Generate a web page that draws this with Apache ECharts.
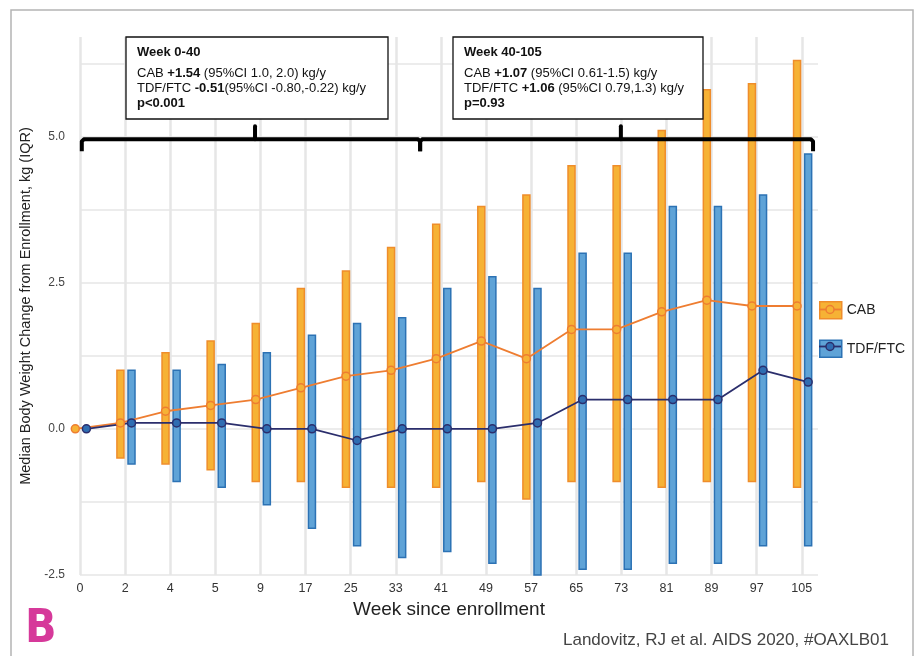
<!DOCTYPE html>
<html>
<head>
<meta charset="utf-8">
<script src="https://cdn.jsdelivr.net/npm/echarts@6/dist/echarts.min.js"></script>
<style>
  html, body { margin: 0; padding: 0; background: #ffffff; }
  #chart { width: 916px; height: 656px; }
</style>
</head>
<body>
<div id="chart"></div>
<script>
// ---- Data ----
const weeks = ['0', '2', '4', '5', '9', '17', '25', '33', '41', '49', '57', '65', '73', '81', '89', '97', '105'];
const cabQ1 = [null, -0.5, -0.6, -0.7, -0.9, -0.9, -1.0, -1.0, -1.0, -0.9, -1.2, -0.9, -0.9, -1.0, -0.9, -0.9, -1.0];
const cabQ3 = [null, 1.0, 1.3, 1.5, 1.8, 2.4, 2.7, 3.1, 3.5, 3.8, 4.0, 4.5, 4.5, 5.1, 5.8, 5.9, 6.3];
const cabMedian = [0, 0.1, 0.3, 0.4, 0.5, 0.7, 0.9, 1.0, 1.2, 1.5, 1.2, 1.7, 1.7, 2.0, 2.2, 2.1, 2.1];
const tdfQ1 = [null, -0.6, -0.9, -1.0, -1.3, -1.7, -2.0, -2.2, -2.1, -2.3, -2.5, -2.4, -2.4, -2.3, -2.3, -2.0, -2.0];
const tdfQ3 = [null, 1.0, 1.0, 1.1, 1.3, 1.6, 1.8, 1.9, 2.4, 2.6, 2.4, 3.0, 3.0, 3.8, 3.8, 4.0, 4.7];
const tdfMedian = [0, 0.1, 0.1, 0.1, 0, 0, -0.2, 0, 0, 0, 0.1, 0.5, 0.5, 0.5, 0.5, 1.0, 0.8];
const yTickLabels = ['-2.5', '0.0', '2.5', '5.0'];
const seriesNames = ['CAB', 'TDF/FTC'];

// ---- Styling ----
const FONT = "'Liberation Sans', Arial, Helvetica, sans-serif";
const CAB_FILL = '#f6b235', CAB_EDGE = '#ef8d2b', CAB_LINE = '#ee7d31';
const TDF_FILL = '#5fa3d7', TDF_EDGE = '#2c72b4', TDF_LINE = '#2b2e6c', TDF_DOT = '#2f6db2';
const Y_MIN = -2.5, Y_MAX = 6.7, X_MAX = 16.36;
const GRID = { left: 80, right: 98, top: 37, bottom: 81 };
const CAB_OFF = -4.7, TDF_OFF = 6.4, BAR_W = 7;

function iqrData(q1, q3) {
  const out = [];
  q1.forEach((v, i) => { if (v !== null) out.push([i, v, q3[i]]); });
  return out;
}
function lineData(med) { return med.map((v, i) => [i, v]); }

function iqrRenderer(offset, fill, edge) {
  return function (params, api) {
    const x = api.value(0);
    const pLo = api.coord([x, api.value(1)]);
    const pHi = api.coord([x, api.value(2)]);
    return {
      type: 'rect',
      shape: { x: pLo[0] + offset - BAR_W / 2, y: pHi[1], width: BAR_W, height: pLo[1] - pHi[1] },
      style: { fill, stroke: edge, lineWidth: 1.5 }
    };
  };
}

const chart = echarts.init(document.getElementById('chart'), null, { renderer: 'canvas' });

function hiddenAxisX(gridIndex) {
  return { type: 'value', gridIndex, min: 0, max: X_MAX, show: false, splitLine: { show: false } };
}
function hiddenAxisY(gridIndex) {
  return { type: 'value', gridIndex, min: Y_MIN, max: Y_MAX, show: false, splitLine: { show: false } };
}

const option = {
  backgroundColor: '#ffffff',
  animation: false,
  textStyle: { fontFamily: FONT },
  grid: [
    Object.assign({ outerBoundsMode: 'none' }, GRID),
    { left: GRID.left + CAB_OFF, right: GRID.right - CAB_OFF, top: GRID.top, bottom: GRID.bottom, outerBoundsMode: 'none' },
    { left: GRID.left + TDF_OFF, right: GRID.right - TDF_OFF, top: GRID.top, bottom: GRID.bottom, outerBoundsMode: 'none' }
  ],
  legend: {
    orient: 'vertical',
    left: 819,
    top: 301,
    padding: 0,
    itemWidth: 22,
    itemHeight: 17,
    itemGap: 20,
    textStyle: { fontSize: 14, color: '#222', fontFamily: FONT },
    data: [
      { name: seriesNames[0], icon: 'rect', itemStyle: { color: CAB_FILL, borderColor: CAB_EDGE, borderWidth: 1.5 } },
      { name: seriesNames[1], icon: 'rect', itemStyle: { color: TDF_FILL, borderColor: TDF_EDGE, borderWidth: 1.5 } }
    ]
  },
  xAxis: [
    {
      type: 'value', gridIndex: 0, min: 0, max: X_MAX, interval: 1,
      name: 'Week since enrollment', nameLocation: 'middle', nameGap: 25,
      nameTextStyle: { fontSize: 19, color: '#222', fontFamily: FONT },
      axisLine: { show: false }, axisTick: { show: false },
      axisLabel: {
        margin: 7, fontSize: 12.5, color: '#333', fontFamily: FONT, showMaxLabel: false,
        formatter: v => (Number.isInteger(v) && weeks[v] !== undefined) ? weeks[v] : ''
      },
      splitLine: { show: true, showMaxLine: false, lineStyle: { color: '#e6e6e6', width: 2.5 } }
    },
    hiddenAxisX(1), hiddenAxisX(2)
  ],
  yAxis: [
    {
      type: 'value', gridIndex: 0, min: Y_MIN, max: Y_MAX, interval: 1.25,
      name: 'Median Body Weight Change from Enrollment, kg (IQR)', nameLocation: 'middle', nameGap: 39,
      nameTextStyle: { fontSize: 14.5, color: '#222', fontFamily: FONT },
      axisLine: { show: false }, axisTick: { show: false },
      axisLabel: {
        margin: 15, fontSize: 12, color: '#444', fontFamily: FONT, showMaxLabel: false,
        formatter: v => {
          const k = v / 2.5;
          if (Math.abs(k - Math.round(k)) > 1e-6) return '';
          const idx = Math.round(k) + 1;
          return yTickLabels[idx] !== undefined ? yTickLabels[idx] : '';
        }
      },
      splitLine: { show: true, showMaxLine: false, lineStyle: { color: '#e6e6e6', width: 1.5 } }
    },
    hiddenAxisY(1), hiddenAxisY(2)
  ],
  series: [
    {
      name: 'CAB IQR', type: 'custom', xAxisIndex: 0, yAxisIndex: 0,
      renderItem: iqrRenderer(CAB_OFF, CAB_FILL, CAB_EDGE),
      encode: { x: 0, y: [1, 2] },
      data: iqrData(cabQ1, cabQ3), z: 2, silent: true
    },
    {
      name: 'TDF/FTC IQR', type: 'custom', xAxisIndex: 0, yAxisIndex: 0,
      renderItem: iqrRenderer(TDF_OFF, TDF_FILL, TDF_EDGE),
      encode: { x: 0, y: [1, 2] },
      data: iqrData(tdfQ1, tdfQ3), z: 2, silent: true
    },
    {
      name: seriesNames[0], type: 'line', xAxisIndex: 1, yAxisIndex: 1, clip: false,
      symbol: 'circle', symbolSize: 8, showAllSymbol: true,
      lineStyle: { color: CAB_LINE, width: 1.8 },
      itemStyle: { color: CAB_FILL, borderColor: CAB_LINE, borderWidth: 1.5 },
      data: lineData(cabMedian), z: 5
    },
    {
      name: seriesNames[1], type: 'line', xAxisIndex: 2, yAxisIndex: 2, clip: false,
      symbol: 'circle', symbolSize: 8, showAllSymbol: true,
      lineStyle: { color: TDF_LINE, width: 1.8 },
      itemStyle: { color: TDF_DOT, borderColor: TDF_LINE, borderWidth: 1.5 },
      data: lineData(tdfMedian), z: 5
    }
  ]
};
chart.setOption(option);

// ---- Annotations (brackets, text boxes, frame, legend marks) ----
const bracketY = 4.95;
const bracketSpans = [
  { from: 0.04, to: 7.54, mid: 3.88 },
  { from: 7.54, to: 16.25, mid: 11.99 }
];
const P = (x, y) => chart.convertToPixel({ gridIndex: 0 }, [x, y]);
const g = [];

// outer frame
g.push({ type: 'rect', shape: { x: 11, y: 10, width: 902, height: 680 }, style: { fill: 'none', stroke: '#b4b4b4', lineWidth: 1.5 }, z: 0, silent: true });

bracketSpans.forEach(b => {
  const a = P(b.from, bracketY), c = P(b.to, bracketY), m = P(b.mid, bracketY);
  g.push({ type: 'polyline', shape: { points: [[a[0], a[1] + 12], [a[0], a[1] + 2], [a[0] + 2, a[1]], [c[0] - 2, c[1]], [c[0], c[1] + 2], [c[0], c[1] + 12]] },
    style: { stroke: '#000', lineWidth: 4, fill: 'none', lineJoin: 'round' }, z: 20, silent: true });
  g.push({ type: 'line', shape: { x1: m[0], y1: m[1], x2: m[0], y2: m[1] - 13 },
    style: { stroke: '#000', lineWidth: 4, lineCap: 'round' }, z: 20, silent: true });
});

const rich = {
  n: { fontSize: 13, fontFamily: FONT, color: '#111' },
  b: { fontSize: 13, fontFamily: FONT, color: '#111', fontWeight: 'bold' }
};
function box(x, y, w, h, lines) {
  g.push({ type: 'rect', shape: { x, y, width: w, height: h }, style: { fill: '#fff', stroke: '#111', lineWidth: 1.3 }, z: 30, silent: true });
  const ys = [15, 36, 51, 66];
  lines.forEach((t, i) => {
    g.push({ type: 'text', x: x + 11, y: y + ys[i], z: 31, silent: true,
      style: { text: t, rich, fontSize: 13, fontFamily: FONT, fill: '#111', verticalAlign: 'middle', align: 'left' } });
  });
}
box(126, 37, 262, 82, [
  '{b|Week 0-40}',
  '{n|CAB }{b|+1.54}{n| (95%CI 1.0, 2.0) kg/y}',
  '{n|TDF/FTC }{b|-0.51}{n|(95%CI -0.80,-0.22) kg/y}',
  '{b|p<0.001}'
]);
box(453, 37, 250, 82, [
  '{b|Week 40-105}',
  '{n|CAB }{b|+1.07}{n| (95%CI 0.61-1.5) kg/y}',
  '{n|TDF/FTC }{b|+1.06}{n| (95%CI 0.79,1.3) kg/y}',
  '{b|p=0.93}'
]);

// line + dot marks over the legend icons
[[309.5, CAB_LINE, CAB_FILL], [346.5, TDF_LINE, TDF_DOT]].forEach(([cy, lc, fc]) => {
  g.push({ type: 'line', shape: { x1: 819, y1: cy, x2: 841, y2: cy }, style: { stroke: lc, lineWidth: 1.8 }, z: 40, silent: true });
  g.push({ type: 'circle', shape: { cx: 830, cy, r: 4 }, style: { fill: fc, stroke: lc, lineWidth: 1.5 }, z: 41, silent: true });
});

// panel letter and citation
g.push({ type: 'text', x: 25, y: 653, z: 10, silent: true,
  style: { text: 'B', fontSize: 46, fontWeight: 'bold', fontFamily: "'Liberation Sans Narrow', 'DejaVu Sans Condensed', Arial, sans-serif", fill: '#d6399a', verticalAlign: 'bottom', align: 'left' } });
g.push({ type: 'text', x: 889, y: 640, z: 10, silent: true,
  style: { text: 'Landovitz, RJ et al. AIDS 2020, #OAXLB01', fontSize: 17, fontFamily: FONT, fill: '#444', verticalAlign: 'middle', align: 'right' } });

chart.setOption({ graphic: { elements: g } });
</script>
</body>
</html>
